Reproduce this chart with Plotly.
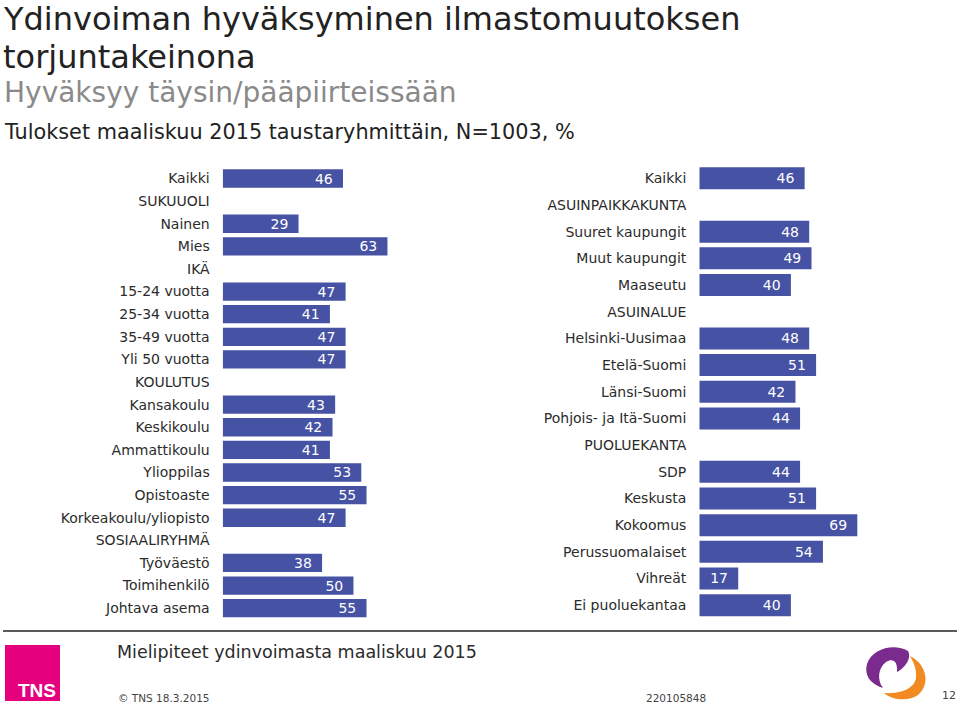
import plotly.graph_objects as go

W, H = 960, 705

# ---------------- data ----------------
cats_left = ["Kaikki", "SUKUUOLI", "Nainen", "Mies", "IKÄ", "15-24 vuotta", "25-34 vuotta",
             "35-49 vuotta", "Yli 50 vuotta", "KOULUTUS", "Kansakoulu", "Keskikoulu",
             "Ammattikoulu", "Ylioppilas", "Opistoaste", "Korkeakoulu/yliopisto",
             "SOSIAALIRYHMÄ", "Työväestö", "Toimihenkilö", "Johtava asema"]
vals_left = [46, None, 29, 63, None, 47, 41, 47, 47, None, 43, 42, 41, 53, 55, 47,
             None, 38, 50, 55]

cats_right = ["Kaikki", "ASUINPAIKKAKUNTA", "Suuret kaupungit", "Muut kaupungit", "Maaseutu",
              "ASUINALUE", "Helsinki-Uusimaa", "Etelä-Suomi", "Länsi-Suomi",
              "Pohjois- ja Itä-Suomi", "PUOLUEKANTA", "SDP", "Keskusta", "Kokoomus",
              "Perussuomalaiset", "Vihreät", "Ei puoluekantaa"]
vals_right = [46, None, 48, 49, 40, None, 48, 51, 42, 44, None, 44, 51, 69, 54, 17, 40]

title1 = "Ydinvoiman hyväksyminen ilmastomuutoksen"
title2 = "torjuntakeinona"
subtitle = "Hyväksyy täysin/pääpiirteissään"
line3 = "Tulokset maaliskuu 2015 taustaryhmittäin, N=1003, %"
footer_title = "Mielipiteet ydinvoimasta maaliskuu 2015"
footer_copy = "© TNS 18.3.2015"
footer_code = "220105848"
page_no = "12"

BAR = "rgb(70,82,163)"
FONT = "DejaVu Sans"
TXT = "#2b2b2b"


def fx(px):
    return px / W


def fy(py):
    return 1 - py / H


def pt(x, y):
    return f"{fx(x):.5f},{fy(y):.5f}"


fig = go.Figure()

common_bar = dict(orientation="h", marker=dict(color=BAR, line=dict(width=0)),
                  texttemplate="%{x}\u00a0\u2009", textposition="inside",
                  insidetextanchor="end", textangle=0, constraintext="none",
                  textfont=dict(family=FONT, size=14, color="white"),
                  showlegend=False, hoverinfo="skip")

fig.add_trace(go.Bar(y=cats_left, x=vals_left, width=0.81, xaxis="x", yaxis="y", **common_bar))
fig.add_trace(go.Bar(y=cats_right, x=vals_right, width=0.825, xaxis="x2", yaxis="y2", **common_bar))

axis_common_x = dict(range=[0, 100], showgrid=False, zeroline=False, showticklabels=False,
                     showline=False, ticks="", fixedrange=True)
axis_common_y = dict(type="category", autorange="reversed", showgrid=False, zeroline=False,
                     showline=False, ticks="", automargin=False, ticklabelstandoff=12,
                     tickfont=dict(family=FONT, size=14, color=TXT), fixedrange=True)

fig.update_layout(
    width=W, height=H, margin=dict(l=0, r=0, t=0, b=0),
    paper_bgcolor="white", plot_bgcolor="white", bargap=0.2,
    xaxis=dict(domain=[fx(222.7), fx(484.2)], anchor="y", **axis_common_x),
    yaxis=dict(domain=[fy(619.5), fy(167.2)], anchor="x", **axis_common_y),
    xaxis2=dict(domain=[fx(699.3), fx(928.3)], anchor="y2", **axis_common_x),
    yaxis2=dict(domain=[fy(618.5), fy(165.0)], anchor="x2", **axis_common_y),
)

ann = []


def add_text(text, x, y, size, color=TXT, family=FONT, xanchor="left", bold=False):
    ann.append(dict(text=f"<b>{text}</b>" if bold else text, x=fx(x), y=fy(y),
                    xref="paper", yref="paper", xanchor=xanchor, yanchor="middle",
                    showarrow=False, font=dict(family=family, size=size, color=color),
                    borderpad=0))


TS = 32
add_text(title1, 2, 30.0 - 0.346 * TS, TS, color="#222222")
add_text(title2, 2, 68.0 - 0.346 * TS, TS, color="#222222")
add_text(subtitle, 3, 101.7 - 0.346 * 28, 28, color="#8a8a8a")
add_text(line3, 3, 139.3 - 0.346 * 20.8, 20.8, color="#222222")
add_text(footer_title, 116, 658.3 - 0.346 * 17.5, 17.5)
add_text(footer_copy, 117, 697.5, 10.5, color="#444444")
add_text(footer_code, 645, 698, 10.5, color="#444444")
add_text(page_no, 941, 695, 11, color="#444444")
add_text("TNS", 57, 697 - 0.3465 * 19, 19, color="white", family="Liberation Sans",
         xanchor="right", bold=True)

fig.update_layout(annotations=ann)

shapes = [
    dict(type="line", xref="paper", yref="paper", x0=fx(3), x1=fx(957), y0=fy(631), y1=fy(631),
         line=dict(color="#5a5a5a", width=2)),
    dict(type="rect", xref="paper", yref="paper", x0=fx(5), x1=fx(60), y0=fy(701), y1=fy(645),
         fillcolor="#e5007e", line=dict(width=0), layer="below"),
    dict(type="path", xref="paper", yref="paper",
         path=(f"M {pt(908,651)} C {pt(895,643)} {pt(872,648)} {pt(867,664)} "
               f"C {pt(864,675)} {pt(870,684)} {pt(883,688)} "
               f"C {pt(877,680)} {pt(878,668)} {pt(886,662)} "
               f"C {pt(892,658)} {pt(898,660)} {pt(897,672)} "
               f"C {pt(905,668)} {pt(912,658)} {pt(908,651)} Z"),
         fillcolor="#7b2a8e", line=dict(width=0)),
    dict(type="path", xref="paper", yref="paper",
         path=(f"M {pt(910,656)} C {pt(925,663)} {pt(932,683)} {pt(918,695)} "
               f"C {pt(908,702)} {pt(892,700)} {pt(884,693)} "
               f"C {pt(898,694)} {pt(914,690)} {pt(916,678)} "
               f"C {pt(917,668)} {pt(913,662)} {pt(910,656)} Z"),
         fillcolor="#f18a21", line=dict(width=0)),
]
fig.update_layout(shapes=shapes)

fig.write_html("out.html", config={"displayModeBar": False},
               post_script="document.body.style.margin='0';document.body.style.overflow='hidden';")
